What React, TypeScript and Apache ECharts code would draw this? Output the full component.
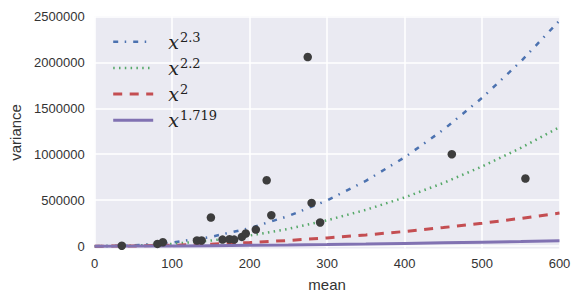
import React, { useEffect, useRef } from "react";
import * as echarts from "echarts";

// Sample points along each curve (x = mean)
const curveX = [0, 50, 100, 150, 200, 250, 300, 350, 400, 450, 500, 550, 600];
const curve23 = [0, 8084, 39811, 101162, 196044, 327544, 498159, 710157, 965472, 1265828, 1612950, 2008328, 2453256];
const curve22 = [0, 5467, 25119, 61292, 115416, 188569, 281619, 395320, 530304, 687164, 866425, 1068551, 1293984];
const curve20 = [0, 2500, 10000, 22500, 40000, 62500, 90000, 122500, 160000, 202500, 250000, 302500, 360000];
const curve1719 = [0, 833, 2742, 5504, 9026, 13245, 18120, 23618, 29712, 36381, 43604, 51367, 59654];

// Scatter observations
const obsMean = [35, 81, 88, 132, 138, 150, 165, 174, 180, 190, 195, 208, 222, 228, 275, 280, 291, 461, 556];
const obsVar = [5000, 25000, 43000, 62000, 62000, 312000, 72000, 76000, 72000, 101000, 138000, 181000, 717000, 337000, 2057000, 471000, 258000, 1000000, 736000];

const seriesNames = ["x^2.3", "x^2.2", "x^2", "x^1.719"];
const yTicks = [0, 500000, 1000000, 1500000, 2000000, 2500000];

const pair = (xs: number[], ys: number[]) => xs.map((x, i) => [x, ys[i]]);

export default function App() {
  const ref = useRef<HTMLDivElement>(null);
  useEffect(() => {
    if (!ref.current) return;
    const chart = echarts.init(ref.current, undefined, { renderer: "svg" });
    const font = "'Liberation Sans', Arial, sans-serif";
    const mkLine = (name: string, data: number[], color: string, width: number, dash: number[] | "solid") => ({
      name,
      type: "line",
      data: pair(curveX, data),
      symbol: "none",
      showSymbol: false,
      lineStyle: { color, width, type: dash, cap: "butt" },
      itemStyle: { color },
      z: 2,
    });
    chart.setOption({
      animation: false,
      grid: {
        left: 94.7,
        right: 21.5,
        top: 16.3,
        bottom: 54.5,
        show: true,
        backgroundColor: "#EAEAF2",
        borderWidth: 0,
      },
      legend: {
        data: seriesNames,
        orient: "vertical",
        left: 111.7,
        top: 30.7,
        padding: 0,
        itemWidth: 40,
        itemHeight: 14,
        itemGap: 5.7,
        itemStyle: { opacity: 0 },
        lineStyle: { width: "inherit", type: "inherit", color: "inherit" },
        formatter: (name: string) => {
          const exp = name.split("^")[1];
          return `{x|x}{s|${exp}}`;
        },
        textStyle: {
          color: "#222",
          rich: {
            x: {
              fontFamily: "'DejaVu Serif', serif",
              fontStyle: "italic",
              fontSize: 19,
              lineHeight: 22,
              padding: [0, 0, 0, 10],
              color: "#222",
            },
            s: {
              fontFamily: "'DejaVu Serif', serif",
              fontSize: 13,
              lineHeight: 11,
              verticalAlign: "top",
              padding: [0, 0, 0, 1],
              color: "#222",
            },
          },
        },
      },
      xAxis: {
        type: "value",
        min: 0,
        max: 600,
        interval: 100,
        name: "mean",
        nameLocation: "middle",
        nameGap: 28.5,
        nameTextStyle: { fontFamily: font, fontSize: 15, color: "#333" },
        axisLine: { show: false },
        axisTick: { show: false },
        axisLabel: { fontFamily: font, fontSize: 13, color: "#333", margin: 8 },
        splitLine: { show: true, lineStyle: { color: "#fff", width: 1.5 } },
      },
      yAxis: {
        type: "value",
        min: -25000,
        max: 2500000,
        name: "variance",
        nameLocation: "middle",
        nameGap: 71,
        nameTextStyle: { fontFamily: font, fontSize: 15, color: "#333" },
        axisLine: { show: false },
        axisTick: { show: false, customValues: yTicks },
        axisLabel: {
          fontFamily: font,
          fontSize: 13,
          color: "#333",
          margin: 10,
          customValues: yTicks,
          formatter: (v: number) => String(v),
        },
        splitLine: { show: true, lineStyle: { color: "#fff", width: 1.5 } },
      },
      series: [
        mkLine(seriesNames[0], curve23, "#4C72B0", 2.5, [5, 6.5, 1.5, 7]),
        mkLine(seriesNames[1], curve22, "#55A868", 2.5, [1.5, 4.3]),
        mkLine(seriesNames[2], curve20, "#C44E52", 3, [9, 7.5]),
        mkLine(seriesNames[3], curve1719, "#8172B2", 3, "solid"),
        {
          name: "observed",
          type: "scatter",
          data: pair(obsMean, obsVar),
          symbol: "circle",
          symbolSize: 8.5,
          itemStyle: { color: "#3d3d3d", opacity: 1 },
          z: 3,
        },
      ],
    });
    return () => chart.dispose();
  }, []);
  return <div ref={ref} style={{ position: "absolute", left: 0, top: 0, width: 581, height: 303 }} />;
}
